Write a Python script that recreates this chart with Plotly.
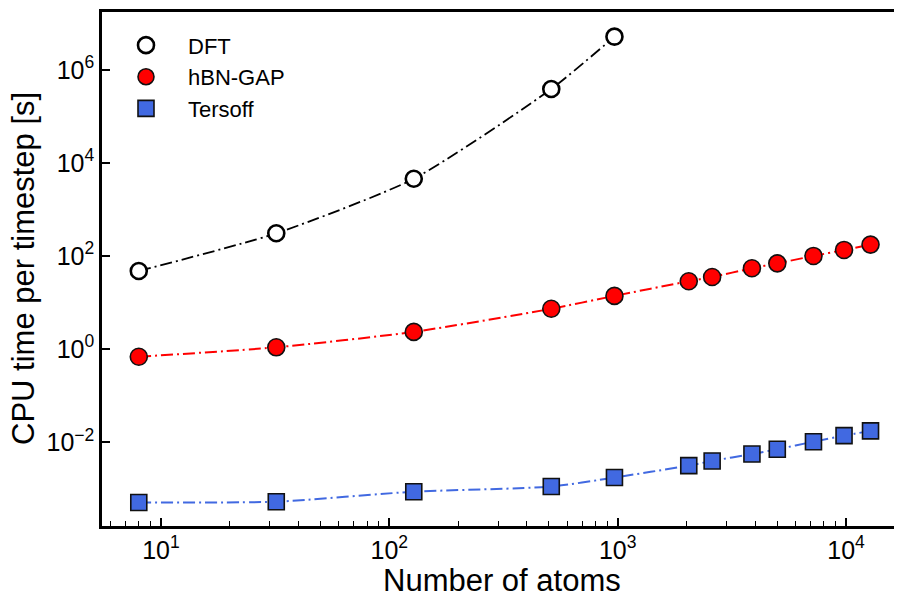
import plotly.graph_objects as go

# Data
dft_atoms = [8, 32, 128, 512, 968]
dft_time = [48, 310, 4600, 3.9e5, 5.2e6]

gap_atoms = [8, 32, 128, 512, 968, 2048, 2592, 3872, 5000, 7200, 9800, 12800]
gap_time = [0.69, 1.1, 2.36, 7.4, 14.0, 28.9, 35.7, 55.0, 70.0, 101.0, 136.0, 177.0]

ters_atoms = [8, 32, 128, 512, 968, 2048, 2592, 3872, 5000, 7200, 9800, 12800]
ters_time = [5.1e-4, 5.3e-4, 8.7e-4, 1.12e-3, 1.75e-3, 3.16e-3, 3.98e-3, 5.6e-3,
             7.1e-3, 1.03e-2, 1.39e-2, 1.76e-2]

x_major = [10, 100, 1000, 10000]
x_major_text = ["10<sup>1</sup>", "10<sup>2</sup>", "10<sup>3</sup>", "10<sup>4</sup>"]
y_major = [1e-2, 1, 1e2, 1e4, 1e6]
y_major_text = ["10<sup>\u22122</sup>", "10<sup>0</sup>", "10<sup>2</sup>",
                "10<sup>4</sup>", "10<sup>6</sup>"]

x_title = "Number of atoms"
y_title = "CPU time per timestep [s]"

FONT = "Liberation Sans, Arial, Helvetica, sans-serif"
DASH = "12px,4px,2px,4px"

x_minor = []
for d in [1, 10, 100, 1000, 10000]:
    for m in range(2, 10):
        v = d * m
        if 5.5 <= v <= 17500:
            x_minor.append(v)

series = [
    dict(name="DFT", x=dft_atoms, y=dft_time, lc="black", lw=1.8,
         marker=dict(symbol="circle", size=16, color="white",
                     line=dict(color="black", width=2.6))),
    dict(name="hBN-GAP", x=gap_atoms, y=gap_time, lc="#ff0000", lw=2,
         marker=dict(symbol="circle", size=17, color="#ff0000",
                     line=dict(color="#111111", width=1.6))),
    dict(name="Tersoff", x=ters_atoms, y=ters_time, lc="#4169e1", lw=2,
         marker=dict(symbol="square", size=16, color="#4169e1",
                     line=dict(color="#111111", width=1.6))),
]

fig = go.Figure()
for s in series:
    fig.add_trace(go.Scatter(
        x=s["x"], y=s["y"], name=s["name"], mode="lines+markers", showlegend=False,
        line=dict(color=s["lc"], width=s["lw"], dash=DASH, shape="spline", smoothing=0.6),
        marker=s["marker"],
    ))
# legend entries (markers only, as in the reference); no data drawn
for s in series:
    fig.add_trace(go.Scatter(
        x=[None], y=[None], name=s["name"], mode="markers",
        marker=s["marker"], showlegend=True, hoverinfo="skip",
    ))

# the page has an 8px body margin; figure is shrunk so that the picture lines up
fig.update_layout(
    width=894, height=585,
    margin=dict(l=94, r=0, t=4, b=67, autoexpand=False),
    paper_bgcolor="white", plot_bgcolor="white",
    font=dict(family=FONT, color="black", size=22),
    showlegend=True,
    legend=dict(x=0.0025, y=0.976, xanchor="left", yanchor="top",
                bgcolor="rgba(0,0,0,0)", borderwidth=0,
                font=dict(size=22, family=FONT, color="black"),
                itemwidth=74, itemclick=False, itemdoubleclick=False),
    annotations=[
        dict(text=x_title, xref="paper", yref="paper", x=0.5, y=0,
             xanchor="center", yanchor="middle", yshift=-54, showarrow=False,
             font=dict(size=31, family=FONT, color="black")),
        dict(text=y_title, xref="paper", yref="paper", x=0, y=0.5,
             xanchor="center", yanchor="middle", xshift=-79, textangle=-90,
             showarrow=False, font=dict(size=31, family=FONT, color="black")),
    ],
)
fig.update_xaxes(
    type="log", range=[0.742, 4.245],
    showline=True, linecolor="black", linewidth=2.5, mirror=True,
    showgrid=False, zeroline=False,
    ticks="inside", ticklen=8, tickwidth=2, tickcolor="black",
    tickmode="array", tickvals=x_major, ticktext=x_major_text,
    tickfont=dict(size=25, family=FONT),
    minor=dict(ticks="inside", ticklen=5, tickwidth=1.3, tickcolor="black",
               tickmode="array", tickvals=x_minor, showgrid=False),
    automargin=False,
)
fig.update_yaxes(
    type="log", range=[-3.798, 7.246],
    showline=True, linecolor="black", linewidth=2.5, mirror=False,
    showgrid=False, zeroline=False,
    ticks="inside", ticklen=8, tickwidth=2, tickcolor="black",
    tickmode="array", tickvals=y_major, ticktext=y_major_text,
    tickfont=dict(size=25, family=FONT),
    automargin=False,
)

fig.write_html("out.html")
